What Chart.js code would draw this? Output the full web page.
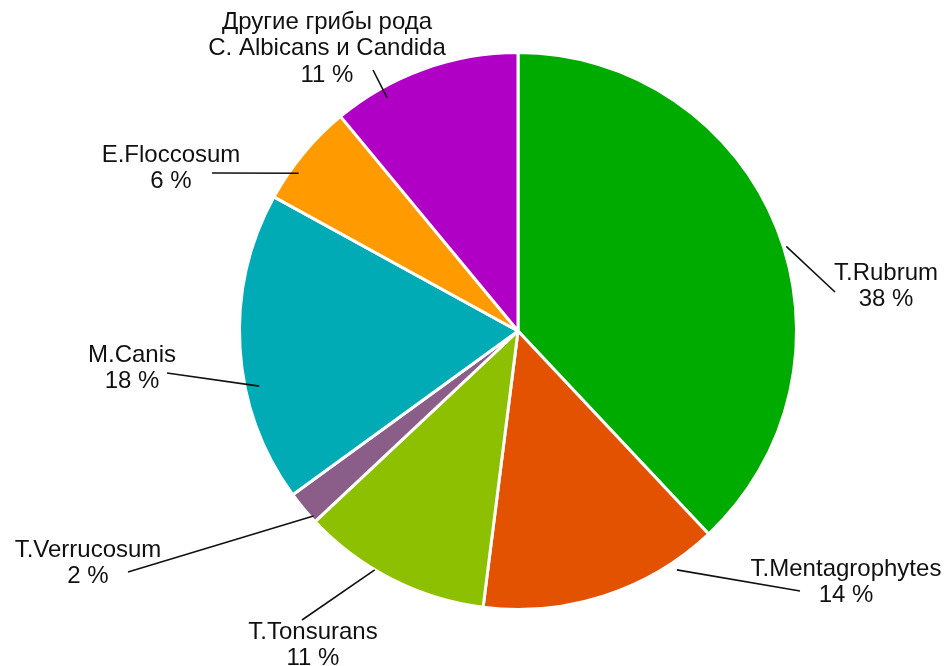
<!DOCTYPE html>
<html>
<head>
<meta charset="utf-8">
<script src="https://cdn.jsdelivr.net/npm/chart.js@4"></script>
<style>
  html, body { margin: 0; padding: 0; background: #fff; }
  #wrap { width: 952px; height: 666px; }
</style>
</head>
<body>
<div id="wrap"><canvas id="pie" width="952" height="666"></canvas></div>
<script>
// fungi species and their share, clockwise from 12 o'clock
const species = [
  ["T.Rubrum"],
  ["T.Mentagrophytes"],
  ["T.Tonsurans"],
  ["T.Verrucosum"],
  ["M.Canis"],
  ["E.Floccosum"],
  ["Другие грибы рода", "C. Albicans и Candida"],
];
const shares = [38, 14, 11, 2, 18, 6, 11];
const sliceColors = ["#00ab00", "#e25200", "#8cc000", "#8a5e88", "#00abb6", "#ff9a00", "#b000c6"];

// where each caption sits and where its leader line goes
// text: [center x, first line y], from: line start outside, at: [slice fraction, radius factor]
const captionLayout = [
  { text: [886, 273], from: [835, 292], at: [0.53, 1.01] },
  { text: [846, 569], from: [800, 591], at: [0.19, 1.03] },
  { text: [313, 632], from: [302, 620], at: [0.60, 1.00] },
  { text: [88, 550],  from: [128, 572], at: [0.15, 0.99] },
  { text: [132, 355], from: [167, 373], at: [0.37, 0.95] },
  { text: [171, 155], from: [212, 173], at: [0.32, 0.97] },
  { text: [327, 22],  from: [373, 70],  at: [0.26, 0.96] },
];

const captions = {
  id: "captions",
  afterDraw(chart) {
    const ctx = chart.ctx;
    const arcs = chart.getDatasetMeta(0).data;
    ctx.save();
    ctx.font = "24px 'Liberation Sans', Arial, sans-serif";
    ctx.fillStyle = "#111";
    ctx.strokeStyle = "#111";
    ctx.lineWidth = 1.6;
    ctx.textAlign = "center";
    ctx.textBaseline = "middle";
    arcs.forEach((arc, i) => {
      const lay = captionLayout[i];
      const p = arc.getProps(["x", "y", "startAngle", "endAngle", "outerRadius"], true);
      const a = p.startAngle + (p.endAngle - p.startAngle) * lay.at[0];
      const r = p.outerRadius * lay.at[1];
      ctx.beginPath();
      ctx.moveTo(lay.from[0], lay.from[1]);
      ctx.lineTo(p.x + Math.cos(a) * r, p.y + Math.sin(a) * r);
      ctx.stroke();
      const lines = species[i].concat([shares[i] + " %"]);
      lines.forEach((t, k) => ctx.fillText(t, lay.text[0], lay.text[1] + k * 26.5));
    });
    ctx.restore();
  },
};

new Chart(document.getElementById("pie"), {
  type: "pie",
  data: {
    labels: species.map((s) => s.join(" ")),
    datasets: [{
      data: shares,
      backgroundColor: sliceColors,
      borderColor: "#ffffff",
      borderWidth: 3,
    }],
  },
  options: {
    responsive: false,
    animation: false,
    layout: { padding: { left: 238, right: 154, top: 51, bottom: 55 } },
    plugins: {
      legend: { display: false },
      tooltip: { enabled: false },
    },
  },
  plugins: [captions],
});
</script>
</body>
</html>
